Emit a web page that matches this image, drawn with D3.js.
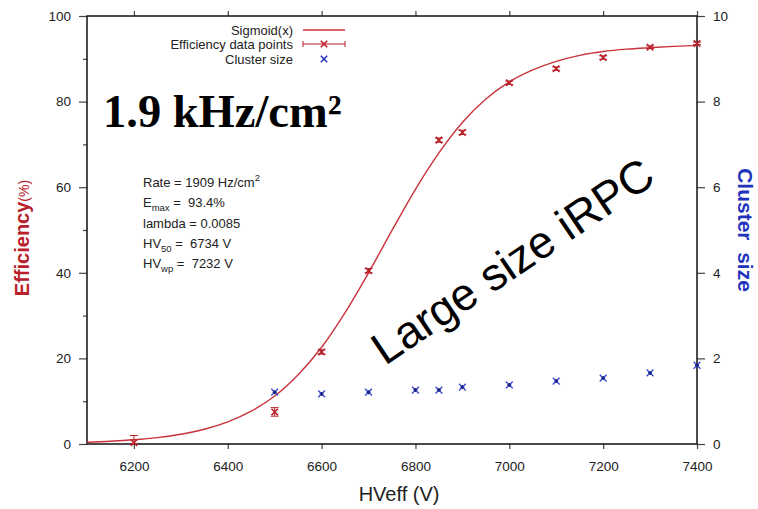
<!DOCTYPE html>
<html>
<head>
<meta charset="utf-8">
<script src="https://d3js.org/d3.v7.min.js"></script>
<style>
  body { margin: 0; background: #fff; }
  text { font-family: "Liberation Sans", Arial, sans-serif; }
</style>
</head>
<body>
<div id="viz"></div>
<script>
// efficiency measurements (HVeff in V, efficiency in %, error bar low/high)
var effHV   = [6200, 6500, 6600, 6700, 6850, 6900, 7000, 7100, 7200, 7300, 7400];
var effVal  = [0.3, 7.5, 21.5, 40.5, 71.0, 72.8, 84.4, 87.7, 90.3, 92.7, 93.6];
var effLow  = [0.0, 6.5, 21.0, 40.0, 70.5, 72.3, 84.0, 87.3, 89.9, 92.4, 93.3];
var effHigh = [2.0, 8.5, 22.0, 41.0, 71.5, 73.3, 84.8, 88.1, 90.7, 93.0, 93.9];

// cluster size (right axis)
var clHV  = [6500, 6600, 6700, 6800, 6850, 6900, 7000, 7100, 7200, 7300, 7400];
var clVal = [1.21, 1.17, 1.21, 1.26, 1.26, 1.33, 1.38, 1.47, 1.54, 1.66, 1.84];

// sigmoid fit curve, every 50 V
var fitHV  = [6100, 6150, 6200, 6250, 6300, 6350, 6400, 6450, 6500, 6550, 6600, 6650, 6700, 6750,
              6800, 6850, 6900, 6950, 7000, 7050, 7100, 7150, 7200, 7250, 7300, 7350, 7400];
var fitVal = [0.42, 0.65, 0.99, 1.5, 2.28, 3.44, 5.17, 7.67, 11.2, 16.2, 22.6, 30.7, 40.0, 49.9,
              59.5, 68.0, 75.1, 80.6, 84.6, 87.4, 89.4, 90.8, 91.7, 92.25, 92.6, 92.9, 93.1];

var xTicks = [6200, 6400, 6600, 6800, 7000, 7200, 7400];
var yTicks = [0, 20, 40, 60, 80, 100];
var yMinor = [10, 30, 50, 70, 90];
var y2Ticks = [0, 2, 4, 6, 8, 10];

var red = "#b8202a", blue = "#2233bb";

var margin = { top: 16, right: 61, bottom: 65, left: 87 },
    width = 758 - margin.left - margin.right,
    height = 509 - margin.top - margin.bottom;

var svg = d3.select("#viz").append("svg")
    .attr("width", 758).attr("height", 509)
    .append("g")
    .attr("transform", "translate(" + margin.left + "," + margin.top + ")");

var x = d3.scaleLinear().domain([6100, 7400]).range([0, width]);
var y = d3.scaleLinear().domain([0, 100]).range([height, 0]);
var y2 = d3.scaleLinear().domain([0, 10]).range([height, 0]);

function styleAxis(g) {
    g.select(".domain").remove();
    g.selectAll("line").attr("stroke", "#444").attr("stroke-width", 1.2);
    g.selectAll("text").attr("fill", "#222").style("font-size", "13.5px");
}

// axes
svg.append("g").attr("transform", "translate(0," + height + ")")
    .call(d3.axisBottom(x).tickValues(xTicks).tickSize(5).tickPadding(12).tickFormat(d3.format("d")))
    .call(styleAxis);
svg.append("g")
    .call(d3.axisTop(x).tickValues(xTicks).tickSize(5).tickFormat(""))
    .call(styleAxis);
svg.append("g")
    .call(d3.axisLeft(y).tickValues(yMinor).tickSize(4).tickFormat(""))
    .call(styleAxis);
svg.append("g")
    .call(d3.axisLeft(y).tickValues(yTicks).tickSize(8).tickPadding(8))
    .call(styleAxis);
svg.append("g").attr("transform", "translate(" + width + ",0)")
    .call(d3.axisRight(y2).tickValues(y2Ticks).tickSize(8).tickPadding(8))
    .call(styleAxis);

// frame
svg.append("rect").attr("width", width).attr("height", height)
    .attr("fill", "none").attr("stroke", "#111").attr("stroke-width", 1.5);

// sigmoid curve
var fitData = fitHV.map(function (v, i) { return [v, fitVal[i]]; });
svg.append("path").datum(fitData)
    .attr("fill", "none").attr("stroke", "#c8323a").attr("stroke-width", 1.4)
    .attr("d", d3.line().x(function (d) { return x(d[0]); }).y(function (d) { return y(d[1]); })
        .curve(d3.curveMonotoneX));

function cross(g, cx, cy, s, color, w) {
    g.append("path")
        .attr("d", "M" + (cx - s) + "," + (cy - s) + "L" + (cx + s) + "," + (cy + s) +
                   "M" + (cx - s) + "," + (cy + s) + "L" + (cx + s) + "," + (cy - s))
        .attr("stroke", color).attr("stroke-width", w).attr("fill", "none");
}

// efficiency points with error bars
var eff = effHV.map(function (v, i) { return { hv: v, val: effVal[i], lo: effLow[i], hi: effHigh[i] }; });
var effG = svg.append("g");
eff.forEach(function (d) {
    var cx = x(d.hv);
    effG.append("path")
        .attr("d", "M" + cx + "," + y(d.lo) + "L" + cx + "," + y(d.hi) +
                   "M" + (cx - 4) + "," + y(d.lo) + "L" + (cx + 4) + "," + y(d.lo) +
                   "M" + (cx - 4) + "," + y(d.hi) + "L" + (cx + 4) + "," + y(d.hi))
        .attr("stroke", red).attr("stroke-width", 1).attr("fill", "none");
    cross(effG, cx, y(d.val), 3.2, red, 1.6);
});

// cluster size points ("*" markers)
var clG = svg.append("g");
clHV.forEach(function (v, i) {
    var cx = x(v), cy = y2(clVal[i]);
    cross(clG, cx, cy, 3.4, "#3a4cd0", 1.4);
    clG.append("path").attr("d", "M" + (cx - 2) + "," + cy + "L" + (cx + 2) + "," + cy +
                                 "M" + cx + "," + (cy - 2) + "L" + cx + "," + (cy + 2))
        .attr("stroke", "#1a2080").attr("stroke-width", 1.4);
});

// legend
var leg = svg.append("g");
var legY = [14, 28, 43];
var legText = ["Sigmoid(x)", "Efficiency data points", "Cluster size"];
legText.forEach(function (t, i) {
    leg.append("text").attr("x", 206).attr("y", legY[i] + 4.5).attr("text-anchor", "end")
        .style("font-size", "13px").attr("fill", "#222").text(t);
});
leg.append("line").attr("x1", 216).attr("x2", 258).attr("y1", legY[0]).attr("y2", legY[0])
    .attr("stroke", "#c8323a").attr("stroke-width", 1.5);
leg.append("path").attr("d", "M216," + legY[1] + "L258," + legY[1] +
    "M216," + (legY[1] - 3) + "L216," + (legY[1] + 3) + "M258," + (legY[1] - 3) + "L258," + (legY[1] + 3))
    .attr("stroke", red).attr("stroke-width", 1).attr("fill", "none");
cross(leg, 237, legY[1], 3.2, red, 1.6);
cross(leg, 237, legY[2], 3.2, blue, 1.5);

// big annotations
svg.append("text").attr("x", 16).attr("y", 111)
    .style("font-family", "'Liberation Serif', 'Times New Roman', serif")
    .style("font-weight", "bold").style("font-size", "46.5px").attr("fill", "#000")
    .text("1.9 kHz/cm²");

var stats = svg.append("g").style("font-size", "13px").attr("fill", "#222");
var st0 = stats.append("text").attr("x", 56).attr("y", 171);
st0.append("tspan").text("Rate = 1909 Hz/cm");
st0.append("tspan").attr("dy", -6).style("font-size", "9.5px").text("2");
var st1 = stats.append("text").attr("x", 56).attr("y", 191);
st1.append("tspan").text("E");
st1.append("tspan").attr("dy", 4).style("font-size", "9.5px").text("max");
st1.append("tspan").attr("dy", -4).text(" =\u00a0\u00a093.4%");
stats.append("text").attr("x", 56).attr("y", 212).text("lambda = 0.0085");
var st3 = stats.append("text").attr("x", 56).attr("y", 232);
st3.append("tspan").text("HV");
st3.append("tspan").attr("dy", 4).style("font-size", "9.5px").text("50");
st3.append("tspan").attr("dy", -4).text(" =\u00a0\u00a06734 V");
var st4 = stats.append("text").attr("x", 56).attr("y", 252);
st4.append("tspan").text("HV");
st4.append("tspan").attr("dy", 4).style("font-size", "9.5px").text("wp");
st4.append("tspan").attr("dy", -4).text(" =\u00a0\u00a07232 V");

svg.append("text")
    .attr("transform", "translate(298,350) rotate(-34)")
    .style("font-size", "45.5px").attr("fill", "#000")
    .text("Large size iRPC");

// axis titles
svg.append("text").attr("x", x(6765)).attr("y", height + 57).attr("text-anchor", "middle")
    .style("font-size", "20px").attr("fill", "#222").text("HVeff (V)");

var yl = svg.append("text").attr("transform", "translate(-58," + (height / 2 + 8) + ") rotate(-90)")
    .attr("text-anchor", "middle").attr("fill", red);
yl.append("tspan").style("font-weight", "bold").style("font-size", "20px").text("Efficiency");
yl.append("tspan").style("font-size", "14px").text("(%)");

svg.append("text").attr("transform", "translate(" + (width + 41) + "," + (height / 2 + 0) + ") rotate(90)")
    .attr("text-anchor", "middle").attr("fill", blue)
    .style("font-weight", "bold").style("font-size", "21px").text("Cluster\u00a0\u00a0size");
</script>
</body>
</html>
